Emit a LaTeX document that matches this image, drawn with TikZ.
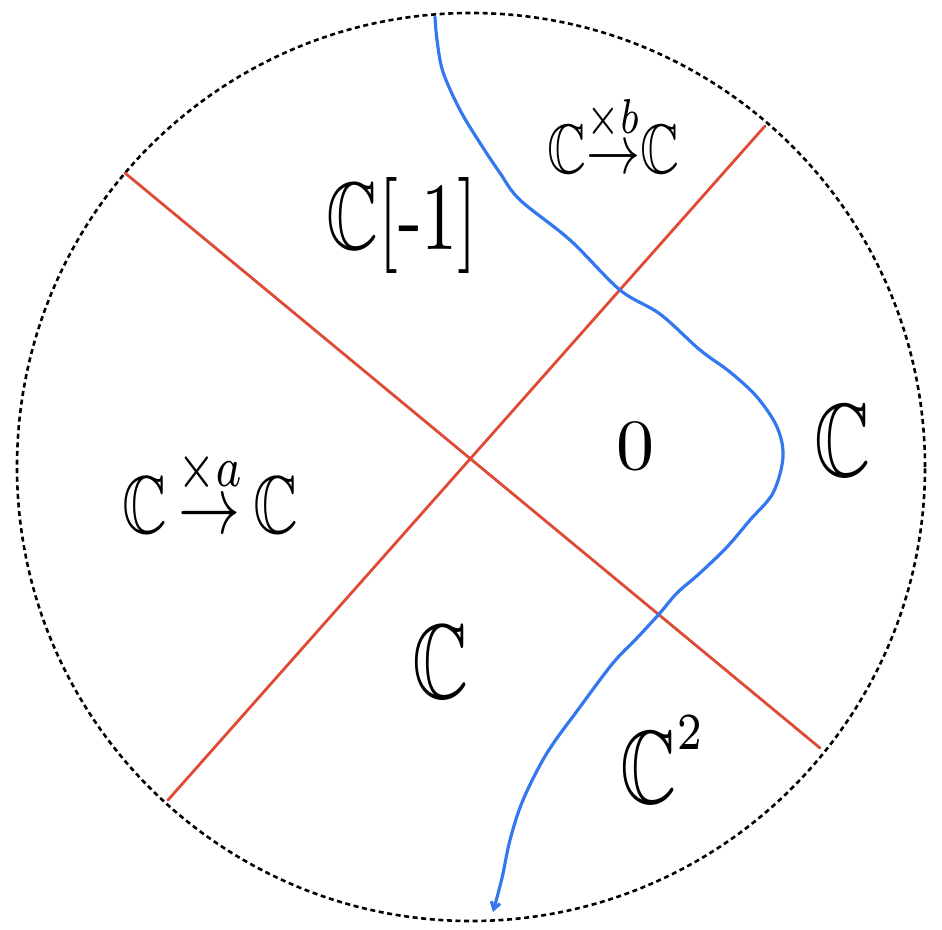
\documentclass[tikz,border=0pt]{standalone}
\usepackage{amsmath}
\usepackage{amssymb}
\usetikzlibrary{arrows.meta}
\definecolor{wallred}{RGB}{222,74,52}
\definecolor{flowblue}{RGB}{52,120,240}

\begin{document}
\begin{tikzpicture}[x=1pt,y=-1pt,line cap=round,line join=round,
  rim/.style={draw=black,line width=2.6pt,line cap=butt,dash pattern=on 5pt off 3.6pt},
  wall/.style={draw=wallred,line width=2.8pt},
  flow/.style={draw=flowblue,line width=3.2pt},
  region/.style={inner sep=0pt,text=black}]
\useasboundingbox (0,0) rectangle (942,929);
\coordinate (o) at (471,467);
\coordinate (nw) at (125,173);
\coordinate (se) at (820,748);
\coordinate (sw) at (168,800);
\coordinate (ne) at (765,126);
% boundary of the disc
\draw[rim] (o) circle[radius=454pt];
% the two walls
\draw[wall] (nw) -- (se);
\draw[wall] (sw) -- (ne);
% the path across
\draw[flow,-{Straight Barb[length=7pt,width=9pt]}] plot[smooth,tension=0.55] coordinates {
  (435,17) (437,40) (443,72) (460,110) (480,143) (500,173) (520,200)
  (570,240) (620,290) (660,314) (700,350) (730,372) (757,397) (777,427)
  (783,457) (773,493) (750,520) (727,547) (700,573) (677,593) (660,613)
  (637,638) (613,663) (580,707) (547,753) (523,800) (510,840) (502,878)
  (493,912)};
% labels of the regions
\node[region,xscale=5.4,yscale=7] (mapb) at (613,133) {$\mathbb{C}{\overset{\times b}{\to}}\mathbb{C}$};
\node[region,xscale=7.2,yscale=9.6] (shift) at (402,225) {$\mathbb{C}[\text{-}1]$};
\node[region,xscale=7.6,yscale=7.2] (zero) at (635,446) {$0$};
\node[region,xscale=7.8,yscale=10.4] (right) at (843,441) {$\mathbb{C}$};
\node[region,xscale=6.2,yscale=8.2] (mapa) at (210,488) {$\mathbb{C}\,{\overset{\times a}{\to}}\,\mathbb{C}$};
\node[region,xscale=7.8,yscale=10.6] (bottom) at (441,662) {$\mathbb{C}$};
\node[region,xscale=7.8,yscale=10.4] (square) at (664,760) {$\mathbb{C}^{\raisebox{1.6pt}{$\scriptscriptstyle 2$}}$};
\end{tikzpicture}
\end{document}
